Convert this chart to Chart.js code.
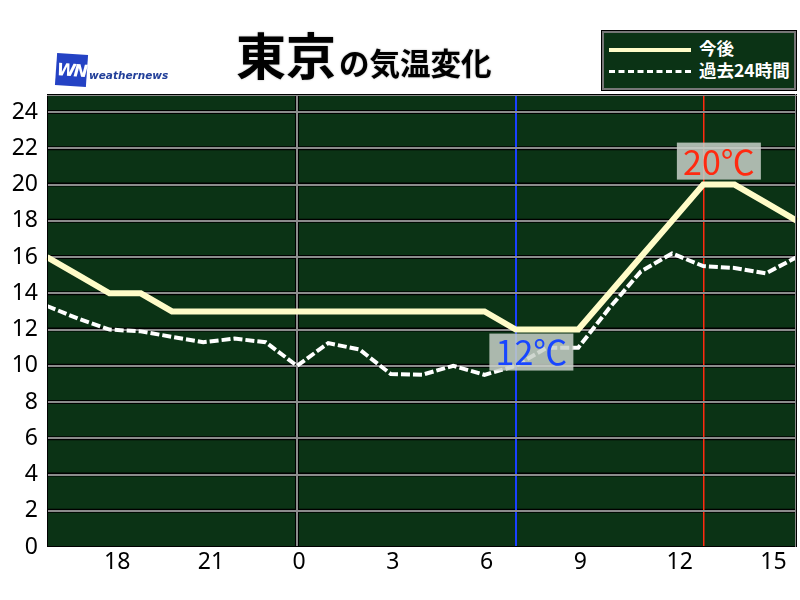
<!DOCTYPE html>
<html>
<head>
<meta charset="utf-8">
<script src="https://cdn.jsdelivr.net/npm/chart.js@4/dist/chart.umd.min.js"></script>
<style>
  body { margin: 0; background: #fff; }
  #wrap { position: relative; width: 800px; height: 600px; font-family: "Noto Sans CJK JP", sans-serif; }
  #title { position: absolute; left: 236px; top: 28px; line-height: 1; white-space: nowrap; color: #000;
           text-shadow: 0 0 2px #aaa; }
  #title .big { font-size: 50px; font-weight: bold; }
  #title .small { font-size: 30.5px; font-weight: bold; margin-left: 3px; }
  #logo { position: absolute; left: 56px; top: 54px; }
  #logo .mark { position: absolute; left: 0; top: 0; width: 31px; height: 32px; background: #2442c4;
                transform: rotate(4deg); color: #fff; font: italic bold 17px "DejaVu Sans", sans-serif;
                line-height: 32px; text-align: center; letter-spacing: -2px; }
  #logo .name { position: absolute; left: 33px; top: 15px; color: #23409a; white-space: nowrap;
                font: italic bold 10.5px "DejaVu Sans", sans-serif; }
  #legend { position: absolute; left: 602px; top: 31px; width: 190px; height: 55px; background: #0b3315;
            border: 2px solid #777; outline: 1px solid #000; }
  #legend .row { position: absolute; left: 5px; height: 20px; width: 185px; }
  #legend .sw { position: absolute; left: 0; top: 9px; width: 82px; }
  #legend .txt { position: absolute; left: 90px; top: -4px; color: #fff; font-size: 17.5px; font-weight: bold; white-space: nowrap; }
</style>
</head>
<body>
<div id="wrap">
  <canvas id="tempChart" width="800" height="600"></canvas>
  <div id="logo"><div class="mark">WN</div><div class="name">weathernews</div></div>
  <div id="title"><span class="big">東京</span><span class="small">の気温変化</span></div>
  <div id="legend">
    <div class="row" style="top:6px"><div class="sw" style="border-top:4px solid #fffcc8"></div><div class="txt">今後</div></div>
    <div class="row" style="top:28px"><div class="sw" style="border-top:3px dashed #fff"></div><div class="txt">過去24時間</div></div>
  </div>
</div>
<script>
// hours shown on the x axis (16:00 yesterday .. 16:00 today)
const hours = [16, 17, 18, 19, 20, 21, 22, 23, 0, 1, 2, 3, 4, 5, 6, 7, 8, 9, 10, 11, 12, 13, 14, 15, 16];
const forecast = [16, 15, 14, 14, 13, 13, 13, 13, 13, 13, 13, 13, 13, 13, 13, 12, 12, 12, 14, 16, 18, 20, 20, 19, 18];
const past24h = [13.3, 12.6, 12.0, 11.9, 11.6, 11.3, 11.5, 11.3, 10.0, 11.25, 10.9, 9.55, 9.5, 10.0, 9.5, 10.0, 11.0, 11.0, 13.2, 15.2, 16.2, 15.5, 15.4, 15.1, 16.0];
const yTicks = [0, 2, 4, 6, 8, 10, 12, 14, 16, 18, 20, 22, 24];
const nowIndex = 15;
const midnightIndex = hours.indexOf(0);

const maxVal = Math.max(...forecast);
const minVal = Math.min(...forecast.slice(nowIndex));
const maxIndex = forecast.indexOf(maxVal);
const minIndex = forecast.indexOf(minVal, nowIndex);

const plotBg = {
    id: 'plotBg',
    beforeDraw(chart) {
        const { ctx, chartArea: a, scales: { x, y } } = chart;
        ctx.save();
        ctx.fillStyle = '#0b3315';
        ctx.fillRect(a.left, a.top, a.right - a.left, a.bottom - a.top);
        // dark edges either side of the grey grid lines
        ctx.strokeStyle = '#000';
        ctx.lineWidth = 4;
        ctx.beginPath();
        yTicks.slice(1).forEach(v => {
            const py = y.getPixelForValue(v);
            ctx.moveTo(a.left, py);
            ctx.lineTo(a.right, py);
        });
        const px = x.getPixelForValue(midnightIndex);
        ctx.moveTo(px, a.top);
        ctx.lineTo(px, a.bottom);
        ctx.stroke();
        ctx.restore();
    },
    afterDraw(chart) {
        const { ctx, chartArea: a } = chart;
        ctx.save();
        ctx.strokeStyle = '#000';
        ctx.lineWidth = 1;
        ctx.strokeRect(a.left + 0.5, a.top + 0.5, a.right - a.left - 1, a.bottom - a.top - 1);
        ctx.strokeStyle = '#8c8c8c';
        ctx.beginPath();
        ctx.moveTo(a.left, a.top + 1.5);
        ctx.lineTo(a.right, a.top + 1.5);
        ctx.moveTo(a.right - 1.5, a.top);
        ctx.lineTo(a.right - 1.5, a.bottom);
        ctx.stroke();
        ctx.restore();
    }
};

const tempLabels = {
    id: 'tempLabels',
    afterDatasetsDraw(chart) {
        const { ctx, scales: { x, y } } = chart;
        const draw = (idx, val, color, dy) => {
            const cx = (x.getPixelForValue(idx) + x.getPixelForValue(idx + 1)) / 2;
            const cy = y.getPixelForValue(val) + dy;
            ctx.save();
            ctx.fillStyle = 'rgba(200,208,200,0.85)';
            ctx.fillRect(cx - 42, cy - 18, 84, 37);
            ctx.font = '34px "Noto Sans CJK JP", sans-serif';
            ctx.fillStyle = color;
            ctx.textAlign = 'center';
            ctx.textBaseline = 'middle';
            ctx.fillText(val + '℃', cx, cy + 1);
            ctx.restore();
        };
        draw(minIndex, minVal, '#1846ff', 22);
        draw(maxIndex, maxVal, '#ff2a10', -24);
    }
};

Chart.defaults.font.family = '"Noto Sans", sans-serif';
Chart.defaults.color = '#000';

new Chart(document.getElementById('tempChart').getContext('2d'), {
    type: 'line',
    data: {
        labels: hours,
        datasets: [{
            label: '今後',
            data: forecast,
            borderColor: '#fffcc8',
            borderWidth: 6,
            pointRadius: 0,
            tension: 0,
            order: 0
        }, {
            label: '過去24時間',
            data: past24h,
            borderColor: '#ffffff',
            borderWidth: 4,
            borderDash: [9, 3],
            pointRadius: 0,
            tension: 0,
            order: 1
        }]
    },
    options: {
        responsive: false,
        animation: false,
        layout: { padding: { top: 94, right: 3, left: 0, bottom: 0 } },
        plugins: { legend: { display: false }, tooltip: { enabled: false } },
        scales: {
            x: {
                type: 'category',
                offset: false,
                afterFit: (s) => { s.height = 53; },
                border: { display: false },
                grid: {
                    drawTicks: false,
                    color: (c) => c.index === midnightIndex ? '#8c8c8c' : c.index === nowIndex ? '#1a40ff' : c.index === maxIndex ? '#ff2a10' : 'transparent',
                    lineWidth: (c) => c.index === maxIndex ? 1.5 : 2
                },
                ticks: {
                    autoSkip: false,
                    maxRotation: 0,
                    padding: 2,
                    labelOffset: 2,
                    font: { size: 23 },
                    // two-digit hours sit a little right of their tick in the original
                    callback: (v, i) => hours[i] % 3 !== 0 ? '' : (hours[i] >= 10 ? '\u2002' + hours[i] : String(hours[i]))
                }
            },
            y: {
                min: 0,
                max: 25,
                afterFit: (s) => { s.width = 47; },
                afterBuildTicks: (s) => { s.ticks = yTicks.map(v => ({ value: v })); },
                border: { display: false },
                grid: {
                    drawTicks: false,
                    color: (c) => c.tick.value === 0 ? 'transparent' : '#8c8c8c',
                    lineWidth: 2
                },
                ticks: {
                    padding: 9,
                    font: { size: 23 }
                }
            }
        }
    },
    plugins: [plotBg, tempLabels]
});
</script>
</body>
</html>
